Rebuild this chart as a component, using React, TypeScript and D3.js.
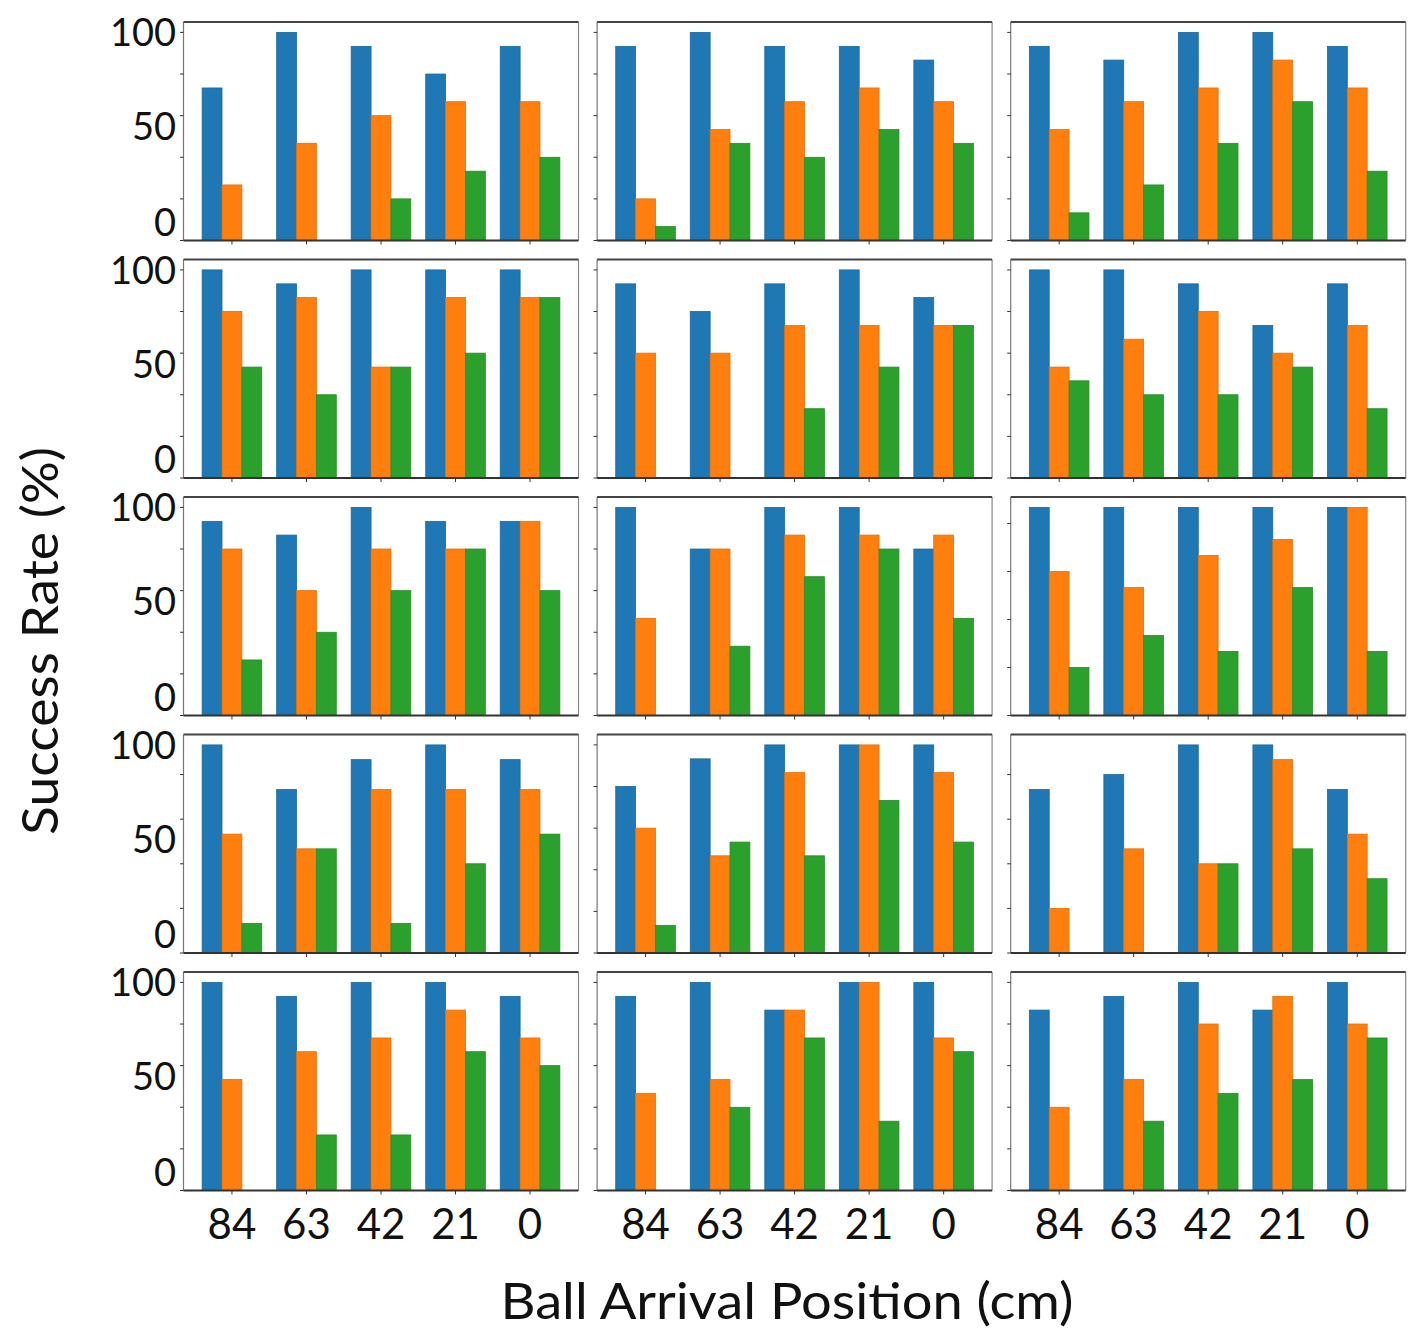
import * as d3 from "d3";

// ball arrival positions (cm), one group of bars per position
const positions = ["84", "63", "42", "21", "0"];
const seriesKeys = ["blue", "orange", "green"];
const colors = ["#1f77b4", "#ff7f0e", "#2ca02c"];

// success rates (%) per panel, panels listed row by row (5 rows x 3 columns)
const blueRates = [
  [73.3, 100, 93.3, 80, 93.3],
  [93.3, 100, 93.3, 93.3, 86.7],
  [93.3, 86.7, 100, 100, 93.3],
  [100, 93.3, 100, 100, 100],
  [93.3, 80, 93.3, 100, 86.7],
  [100, 100, 93.3, 73.3, 93.3],
  [93.3, 86.7, 100, 93.3, 93.3],
  [100, 80, 100, 100, 80],
  [86.7, 86.7, 86.7, 86.7, 86.7],
  [93.3, 73.3, 86.7, 93.3, 86.7],
  [80, 93.3, 100, 100, 100],
  [73.3, 80, 93.3, 93.3, 73.3],
  [100, 93.3, 100, 100, 93.3],
  [93.3, 100, 86.7, 100, 100],
  [86.7, 93.3, 100, 86.7, 100],
];
const orangeRates = [
  [26.7, 46.7, 60, 66.7, 66.7],
  [20, 53.3, 66.7, 73.3, 66.7],
  [53.3, 66.7, 73.3, 86.7, 73.3],
  [80, 86.7, 53.3, 86.7, 86.7],
  [60, 60, 73.3, 73.3, 73.3],
  [53.3, 66.7, 80, 60, 73.3],
  [80, 60, 80, 80, 93.3],
  [46.7, 80, 86.7, 86.7, 86.7],
  [60, 53.3, 66.7, 73.3, 86.7],
  [53.3, 46.7, 73.3, 73.3, 73.3],
  [60, 46.7, 86.7, 100, 86.7],
  [20, 46.7, 40, 86.7, 53.3],
  [53.3, 66.7, 73.3, 86.7, 73.3],
  [46.7, 53.3, 86.7, 100, 73.3],
  [40, 53.3, 80, 93.3, 80],
];
const greenRates = [
  [0, 0, 20, 33.3, 40],
  [6.7, 46.7, 40, 53.3, 46.7],
  [13.3, 26.7, 46.7, 66.7, 33.3],
  [53.3, 40, 53.3, 60, 86.7],
  [0, 0, 33.3, 53.3, 73.3],
  [46.7, 40, 40, 53.3, 33.3],
  [26.7, 40, 60, 80, 60],
  [0, 33.3, 66.7, 80, 46.7],
  [20, 33.3, 26.7, 53.3, 26.7],
  [13.3, 46.7, 13.3, 40, 53.3],
  [13.3, 53.3, 46.7, 73.3, 53.3],
  [0, 0, 40, 46.7, 33.3],
  [0, 26.7, 26.7, 66.7, 60],
  [0, 40, 73.3, 33.3, 66.7],
  [0, 33.3, 46.7, 53.3, 73.3],
];
const yTickLabels = ["0", "50", "100"];

const W = 1418;
const H = 1343;
const nRows = 5;
const nCols = 3;
const colLeft = 183.5;
const colPitch = 413.6;
const panelW = 395;
const rowTop = 22;
const rowPitch = 237.5;
const panelH = 218.5;
const font = "Lato, 'Open Sans', sans-serif";

// labels on the left column sit a bit off the ticks in the original
const labelAt: Record<string, number> = { "0": 9, "50": 55, "100": 100 };

const Panel = ({ idx }: { idx: number }) => {
  const row = Math.floor(idx / nCols);
  const col = idx % nCols;
  const x0 = colLeft + col * colPitch;
  const y0 = rowTop + row * rowPitch;
  const x1 = x0 + panelW;
  const y1 = y0 + panelH;

  const rates = [blueRates[idx], orangeRates[idx], greenRates[idx]];
  const maxV = d3.max(rates.flat()) || 100;

  const x = d3
    .scaleBand()
    .domain(positions)
    .range([x0, x1])
    .paddingInner(0.2)
    .paddingOuter(0.25);
  const xSub = d3
    .scaleBand()
    .domain(seriesKeys)
    .range([0, x.bandwidth()]);
  const y = d3.scaleLinear().domain([0, maxV * 1.05]).range([y1, y0]);
  const yLab = d3.scaleLinear().domain([0, 105]).range([y1, y0]);

  return (
    <g>
      {positions.map((p, gi) =>
        seriesKeys.map((s, si) => {
          const v = rates[si][gi];
          if (!v) return null;
          const c = d3.color(colors[si])!.darker(0.35).formatHex();
          return (
            <rect
              key={p + s}
              x={(x(p) || 0) + (xSub(s) || 0)}
              y={y(v)}
              width={xSub.bandwidth()}
              height={y1 - y(v)}
              fill={colors[si]}
              stroke={c}
              strokeWidth={0.8}
            />
          );
        })
      )}
      {/* frame */}
      <line x1={x0} x2={x0} y1={y0} y2={y1} stroke="#777" strokeWidth={1.2} />
      <line x1={x1} x2={x1} y1={y0} y2={y1} stroke="#888" strokeWidth={1.2} />
      <line x1={x0} x2={x1} y1={y0} y2={y0} stroke="#444" strokeWidth={1.8} />
      <line x1={x0} x2={x1} y1={y1} y2={y1} stroke="#333" strokeWidth={1.8} />
      {/* y ticks */}
      {y.ticks(5).map((t) => (
        <line key={"yt" + t} x1={x0 - 3.5} x2={x0} y1={y(t)} y2={y(t)} stroke="#333" strokeWidth={1} />
      ))}
      {/* x ticks */}
      {positions.map((p) => {
        const cx = (x(p) || 0) + x.bandwidth() / 2;
        return <line key={"xt" + p} x1={cx} x2={cx} y1={y1} y2={y1 + 4} stroke="#333" strokeWidth={1} />;
      })}
      {col === 0 &&
        yTickLabels.map((l) => (
          <text
            key={"yl" + l}
            x={176}
            y={yLab(labelAt[l]) + 14}
            textAnchor="end"
            fontFamily={font}
            fontSize={38}
            fill="#111"
          >
            {l}
          </text>
        ))}
      {row === nRows - 1 &&
        positions.map((p) => (
          <text
            key={"xl" + p}
            x={(x(p) || 0) + x.bandwidth() / 2}
            y={1239}
            textAnchor="middle"
            fontFamily={font}
            fontSize={42}
            fill="#111"
          >
            {p}
          </text>
        ))}
    </g>
  );
};

export default function App() {
  const panels = d3.range(nRows * nCols);
  return (
    <svg
      width={W}
      height={H}
      style={{ position: "absolute", left: 0, top: 0, background: "#fff" }}
    >
      <rect x={0} y={0} width={W} height={H} fill="#fff" />
      {panels.map((i) => (
        <Panel key={i} idx={i} />
      ))}
      <text
        transform={`translate(58, 641) rotate(-90)`}
        textAnchor="middle"
        fontFamily={font}
        fontSize={51}
        textLength={388}
        lengthAdjust="spacingAndGlyphs"
        fill="#111"
      >
        Success Rate (%)
      </text>
      <text
        x={787}
        y={1319}
        textAnchor="middle"
        fontFamily={font}
        fontSize={51}
        textLength={573}
        lengthAdjust="spacingAndGlyphs"
        fill="#111"
      >
        Ball Arrival Position (cm)
      </text>
    </svg>
  );
}
